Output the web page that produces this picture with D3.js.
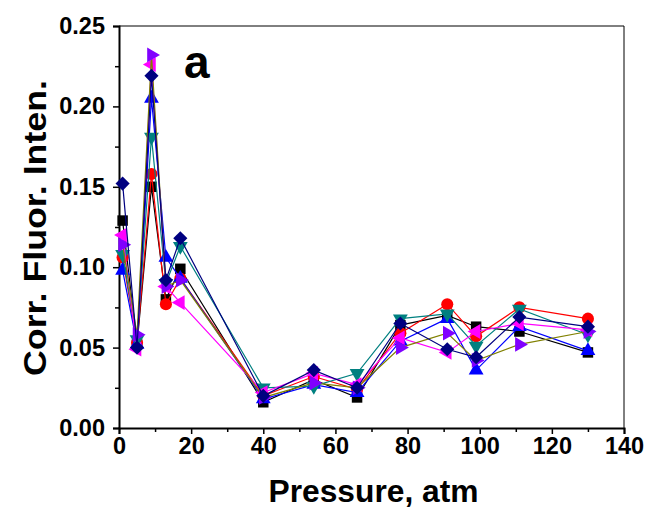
<!DOCTYPE html>
<html>
<head>
<meta charset="utf-8">
<script src="https://cdn.jsdelivr.net/npm/d3@7"></script>
<style>
  html, body { margin: 0; padding: 0; background: #fff; }
  svg { display: block; }
  text { font-family: "Liberation Sans", Arial, sans-serif; font-weight: bold; }
</style>
</head>
<body>
<svg id="chart" width="651" height="513"></svg>
<script>
// ---- data ----
const pressure = [1, 5, 9, 13, 17, 40, 54, 66, 78, 91, 99, 111, 130];
const seriesBlack   = [0.129, 0.052, 0.150, 0.080, 0.099, 0.016, 0.030, 0.019, 0.064, 0.070, 0.063, 0.060, 0.047];
const seriesRed     = [0.106, 0.053, 0.158, 0.077, 0.093, 0.020, 0.032, 0.024, 0.059, 0.077, 0.057, 0.075, 0.068];
const seriesBlue    = [0.098, 0.052, 0.205, 0.106, 0.093, 0.018, 0.027, 0.022, 0.054, 0.068, 0.036, 0.063, 0.048];
const seriesTeal    = [0.108, 0.055, 0.181, 0.090, 0.113, 0.025, 0.026, 0.034, 0.068, 0.071, 0.051, 0.074, 0.058];
const seriesMagenta = [0.120, 0.049, 0.226, 0.088, 0.078, 0.022, 0.034, 0.027, 0.056, 0.047, 0.060, 0.065, 0.061];
const seriesViolet  = [0.114, 0.058, 0.232, 0.088, 0.092, 0.019, 0.028, 0.025, 0.050, 0.059, 0.042, 0.052, 0.060];
const seriesNavy    = [0.152, 0.050, 0.219, 0.092, 0.118, 0.020, 0.036, 0.025, 0.065, 0.049, 0.044, 0.069, 0.063];
const xTicks = [0, 20, 40, 60, 80, 100, 120, 140];
const yTicks = [0.00, 0.05, 0.10, 0.15, 0.20, 0.25];
const xTitle = "Pressure, atm";
const yTitle = "Corr. Fluor. Inten.";
const panelLabel = "a";

// ---- styling of each series (not data) ----
const series = [
  { v: seriesBlack,   line: "#000000", fill: "#000000", shape: "square" },
  { v: seriesRed,     line: "#ff0000", fill: "#ff0000", shape: "circle" },
  { v: seriesBlue,    line: "#0000ff", fill: "#0000ff", shape: "up" },
  { v: seriesTeal,    line: "#008080", fill: "#008080", shape: "down" },
  { v: seriesMagenta, line: "#ff00ff", fill: "#ff00ff", shape: "left" },
  { v: seriesViolet,  line: "#808000", fill: "#8000ff", shape: "right" },
  { v: seriesNavy,    line: "#000080", fill: "#000080", shape: "diamond" }
];

const svg = d3.select("#chart");
const L = 119, R = 624, T = 26, B = 428;

const x = d3.scaleLinear().domain([0, 140]).range([L, R]);
const y = d3.scaleLinear().domain([0, 0.25]).range([B, T]);

// frame top/right
svg.append("line").attr("x1", L).attr("x2", R).attr("y1", T).attr("y2", T)
  .attr("stroke", "#000").attr("stroke-width", 1);
svg.append("line").attr("x1", R).attr("x2", R).attr("y1", T).attr("y2", B)
  .attr("stroke", "#000").attr("stroke-width", 1);

// axes
const xAxis = d3.axisBottom(x).tickValues(xTicks).tickFormat(d3.format("d")).tickSize(6).tickPadding(3);
const xMinor = d3.axisBottom(x).tickValues(d3.range(10, 140, 20)).tickFormat("").tickSize(4);
const yAxis = d3.axisLeft(y).tickValues(yTicks).tickFormat(d3.format(".2f")).tickSize(6).tickPadding(8);
const yMinor = d3.axisLeft(y).tickValues(d3.range(0.025, 0.25, 0.05)).tickFormat("").tickSize(4);

function styleAxis(g) {
  g.select(".domain").attr("stroke-width", 2).attr("stroke", "#000");
  g.selectAll(".tick line").attr("stroke-width", 1.5).attr("stroke", "#000");
  g.selectAll(".tick text").style("font-size", "23.5px").style("font-weight", "bold")
    .style("font-family", "'Liberation Sans', Arial, sans-serif").attr("fill", "#000");
}

svg.append("g").attr("transform", `translate(0,${B})`).call(xMinor).call(g => { g.select(".domain").remove(); g.selectAll(".tick line").attr("stroke-width", 1.5); });
svg.append("g").attr("transform", `translate(${L},0)`).call(yMinor).call(g => { g.select(".domain").remove(); g.selectAll(".tick line").attr("stroke-width", 1.5); });
svg.append("g").attr("transform", `translate(0,${B})`).call(xAxis).call(styleAxis);
svg.append("g").attr("transform", `translate(${L},0)`).call(yAxis).call(styleAxis);

// symbols
function symbolPath(shape) {
  switch (shape) {
    case "square": return { p: d3.symbol(d3.symbolSquare, 110)(), r: 0 };
    case "circle": return { p: d3.symbol(d3.symbolCircle, 115)(), r: 0 };
    case "up": return { p: d3.symbol(d3.symbolTriangle, 95)(), r: 0 };
    case "down": return { p: d3.symbol(d3.symbolTriangle, 95)(), r: 180 };
    case "left": return { p: d3.symbol(d3.symbolTriangle, 95)(), r: -90 };
    case "right": return { p: d3.symbol(d3.symbolTriangle, 95)(), r: 90 };
    case "diamond": return { p: d3.symbol(d3.symbolSquare, 100)(), r: 45 };
  }
}

const line = d3.line().x(d => x(d[0])).y(d => y(d[1]));

series.forEach(s => {
  const pts = pressure.map((p, i) => [p, s.v[i]]);
  svg.append("path").datum(pts).attr("d", line)
    .attr("fill", "none").attr("stroke", s.line).attr("stroke-width", 1.2);
  const sp = symbolPath(s.shape);
  svg.append("g").selectAll("path").data(pts).join("path")
    .attr("d", sp.p)
    .attr("transform", d => `translate(${x(d[0])},${y(d[1])}) rotate(${sp.r})`)
    .attr("fill", s.fill);
});

// titles
svg.append("text").attr("x", (L + R) / 2 + 2).attr("y", 502)
  .attr("text-anchor", "middle").style("font-size", "31px").text(xTitle)
  .attr("textLength", 210).attr("lengthAdjust", "spacingAndGlyphs");

svg.append("text").attr("transform", `translate(46,${(T + B) / 2 + 1}) rotate(-90)`)
  .attr("text-anchor", "middle").style("font-size", "31px").text(yTitle)
  .attr("textLength", 296).attr("lengthAdjust", "spacingAndGlyphs");

svg.append("text").attr("x", 184).attr("y", 78).style("font-size", "46px").text(panelLabel);
</script>
</body>
</html>
